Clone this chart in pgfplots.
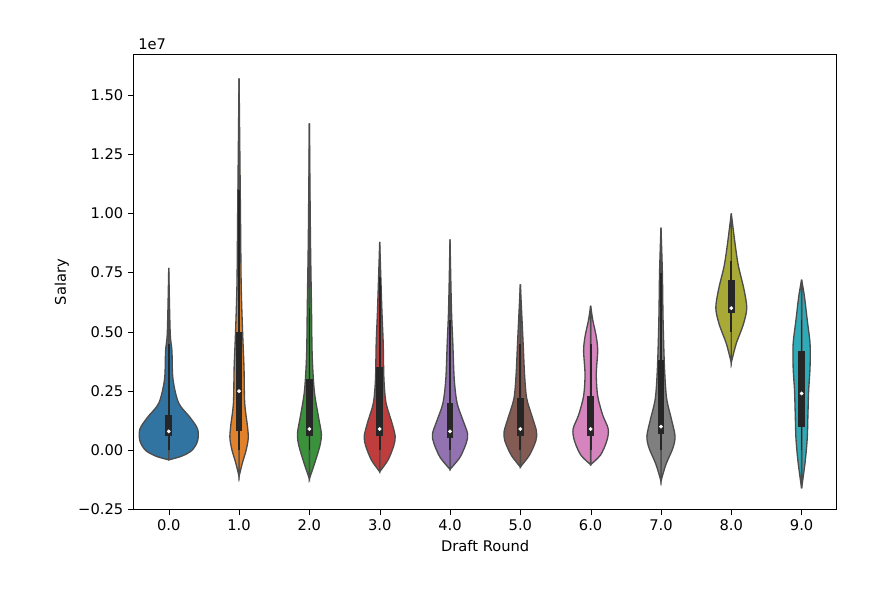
\documentclass[border=0pt]{standalone}
\usepackage{pgfplots}
\usepackage{pgfplotstable}
\usepackage{fontspec}
\setmainfont{DejaVu Sans}
\pgfplotsset{compat=1.18}
\definecolor{c0}{HTML}{3274A1}\definecolor{c1}{HTML}{E1812C}\definecolor{c2}{HTML}{3A923A}
\definecolor{c3}{HTML}{C03D3E}\definecolor{c4}{HTML}{9372B2}\definecolor{c5}{HTML}{845B53}
\definecolor{c6}{HTML}{D684BD}\definecolor{c7}{HTML}{7F7F7F}\definecolor{c8}{HTML}{A9AA35}
\definecolor{c9}{HTML}{2EABB8}
\pgfplotstableread{
y w
-0.04 0
-0.025 0.18
0.0 0.33
0.04 0.41
0.09 0.41
0.14 0.3
0.2 0.14
0.3 0.06
0.42 0.045
0.5 0.02
0.77 0
}\vA
\pgfplotstableread{
y w
-0.11 0
-0.05 0.05
0.0 0.1
0.05 0.13
0.1 0.12
0.2 0.08
0.35 0.07
0.5 0.05
0.7 0.03
1.0 0.02
1.57 0
}\vB
\pgfplotstableread{
y w
-0.12 0
-0.05 0.08
0.02 0.15
0.07 0.17
0.14 0.13
0.25 0.07
0.4 0.04
0.6 0.03
0.9 0.015
1.38 0
}\vC
\pgfplotstableread{
y w
-0.09 0
-0.04 0.12
0.02 0.2
0.06 0.22
0.12 0.17
0.2 0.09
0.3 0.06
0.45 0.05
0.6 0.03
0.88 0
}\vD
\pgfplotstableread{
y w
-0.08 0
-0.03 0.14
0.03 0.23
0.07 0.25
0.13 0.18
0.2 0.1
0.3 0.06
0.45 0.04
0.6 0.02
0.89 0
}\vE
\pgfplotstableread{
y w
-0.07 0
-0.02 0.13
0.04 0.22
0.08 0.23
0.14 0.17
0.22 0.09
0.32 0.06
0.45 0.04
0.7 0
}\vF
\pgfplotstableread{
y w
-0.06 0
-0.02 0.14
0.04 0.23
0.09 0.25
0.15 0.17
0.23 0.1
0.32 0.08
0.42 0.1
0.48 0.08
0.55 0.03
0.61 0
}\vG
\pgfplotstableread{
y w
-0.13 0
-0.06 0.07
0.01 0.17
0.06 0.2
0.13 0.15
0.22 0.08
0.35 0.05
0.55 0.03
0.75 0.02
0.94 0
}\vH
\pgfplotstableread{
y w
0.37 0
0.45 0.07
0.53 0.17
0.6 0.22
0.68 0.18
0.78 0.1
0.88 0.05
1.0 0
}\vI
\pgfplotstableread{
y w
-0.16 0
-0.05 0.05
0.05 0.08
0.15 0.09
0.25 0.1
0.35 0.12
0.45 0.12
0.55 0.08
0.65 0.04
0.72 0
}\vJ
\newcommand\violin[8]{%
\addplot[fill=#2,draw=black!70,line width=1pt,smooth,tension=0.5] table[x expr=#1+\thisrow{w},y=y]{#3} -- cycle;
\addplot[fill=#2,draw=black!70,line width=1pt,smooth,tension=0.5] table[x expr=#1-\thisrow{w},y=y]{#3} -- cycle;
\addplot[black!85,line width=1.3pt] coordinates{(#1,#4)(#1,#5)};
\addplot[black!85,line width=5pt] coordinates{(#1,#6)(#1,#7)};
\addplot[only marks,mark=*,mark size=1.2pt,white] coordinates{(#1,#8)};
}
\begin{document}
\begin{tikzpicture}
\begin{axis}[scale only axis,width=527pt,height=341pt,
xmin=-0.5,xmax=9.5,ymin=-0.25,ymax=1.67,
xtick={0,...,9},xticklabels={0.0,1.0,2.0,3.0,4.0,5.0,6.0,7.0,8.0,9.0},
ytick={-0.25,0,0.25,0.5,0.75,1,1.25,1.5},
yticklabels={−0.25,0.00,0.25,0.50,0.75,1.00,1.25,1.50},
tick label style={font=\fontsize{11}{13}\selectfont},
label style={font=\fontsize{11}{13}\selectfont},
xlabel={Draft Round},ylabel={Salary},
tick align=outside,tick style={black},xtick pos=bottom,ytick pos=left,
clip=false]
\path (rel axis cs:-0.19,-0.18) (rel axis cs:1.08,1.12);
\node[anchor=south west,font=\fontsize{11}{13}\selectfont] at (rel axis cs:0,1) {1e7};
\violin{0}{c0}{\vA}{0.0}{0.45}{0.06}{0.15}{0.08}
\violin{1}{c1}{\vB}{0.0}{1.1}{0.08}{0.5}{0.25}
\violin{2}{c2}{\vC}{0.0}{0.6}{0.06}{0.3}{0.09}
\violin{3}{c3}{\vD}{0.0}{0.73}{0.06}{0.35}{0.09}
\violin{4}{c4}{\vE}{0.0}{0.55}{0.05}{0.2}{0.08}
\violin{5}{c5}{\vF}{0.0}{0.45}{0.06}{0.22}{0.09}
\violin{6}{c6}{\vG}{0.0}{0.45}{0.06}{0.23}{0.09}
\violin{7}{c7}{\vH}{0.0}{0.75}{0.07}{0.38}{0.10}
\violin{8}{c8}{\vI}{0.5}{0.8}{0.58}{0.72}{0.6}
\violin{9}{c9}{\vJ}{0.0}{0.55}{0.1}{0.42}{0.24}
\end{axis}
\end{tikzpicture}
\end{document}
